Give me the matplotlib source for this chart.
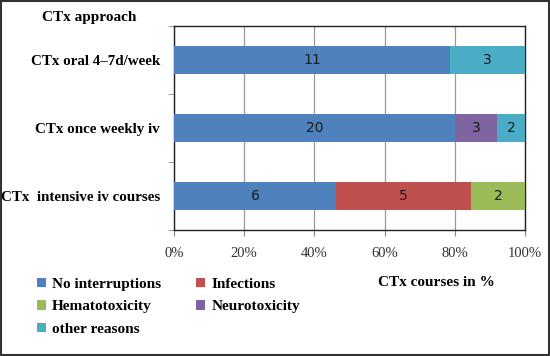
import matplotlib.pyplot as plt
import numpy as np
from matplotlib.patches import Rectangle

# categories, bottom to top as drawn
categories = ["CTx  intensive iv courses", "CTx once weekly iv", "CTx oral 4\u20137d/week"]
series_names = ["No interruptions", "Infections", "Hematotoxicity", "Neurotoxicity", "other reasons"]
no_interruptions = [6, 20, 11]
infections = [5, 0, 0]
hematotoxicity = [2, 0, 0]
neurotoxicity = [0, 3, 0]
other_reasons = [0, 2, 3]
colors = ["#4F81BD", "#C0504D", "#9BBB59", "#8064A2", "#4BACC6"]

counts = np.array([no_interruptions, infections, hematotoxicity, neurotoxicity, other_reasons], dtype=float)
totals = counts.sum(axis=0)
pct = counts / totals * 100

serif = "Liberation Serif"

fig = plt.figure(figsize=(5.5, 3.56), dpi=100)
ax = fig.add_axes([174 / 550, 1 - 230 / 356, 351 / 550, 204 / 356])

y = np.arange(len(categories))
left = np.zeros(len(categories))
for i, name in enumerate(series_names):
    bars = ax.barh(y, pct[i], left=left, height=0.4, color=colors[i], label=name, zorder=3)
    for j, b in enumerate(bars):
        if counts[i, j] > 0:
            ax.text(left[j] + pct[i, j] / 2, y[j], f"{int(counts[i, j])}",
                    ha="center", va="center", fontsize=10, color="#1a1a1a", zorder=4)
    left += pct[i]

ax.set_xlim(0, 100)
ax.set_ylim(-0.5, 2.5)
ax.set_xticks(np.arange(0, 101, 20))
ax.set_xticklabels([f"{v}%" for v in range(0, 101, 20)], fontfamily=serif, fontsize=10.5, color="#333333")
ax.set_yticks(y)
ax.set_yticklabels(categories, fontfamily=serif, fontweight="bold", fontsize=10.8)
ax.set_yticks([-0.5, 0.5, 1.5, 2.5], minor=True)
ax.tick_params(axis="y", which="major", length=0, pad=10)
ax.tick_params(axis="y", which="minor", length=4, color="#888888")
ax.tick_params(axis="x", length=4, color="#888888", pad=8)
ax.grid(axis="x", color="#999999", linewidth=0.9, zorder=0)
for s in ax.spines.values():
    s.set_color("#222222")
    s.set_linewidth(1.0)

fig.text(42 / 550, 1 - 17 / 356, "CTx approach", fontfamily=serif, fontweight="bold",
         fontsize=11, va="center", ha="left")
fig.text(495 / 550, 1 - 283 / 356, "CTx courses in %", fontfamily=serif, fontweight="bold",
         fontsize=11, va="center", ha="right")

handles, labels = ax.get_legend_handles_labels()
order = [0, 2, 4, 1, 3]
leg = fig.legend([handles[k] for k in order], [labels[k] for k in order], ncol=2,
                 loc="upper left", bbox_to_anchor=(23 / 550, 1 - 264 / 356),
                 frameon=False, handlelength=0.6, handleheight=0.6, handletextpad=0.4,
                 columnspacing=2.3, labelspacing=0.6,
                 prop={"family": serif, "weight": "bold", "size": 11})

fig.patches.append(Rectangle((0.002, 0.003), 0.996, 0.994, transform=fig.transFigure,
                             fill=False, edgecolor="#333333", linewidth=1.5))

fig.savefig("out.png", dpi=100)
